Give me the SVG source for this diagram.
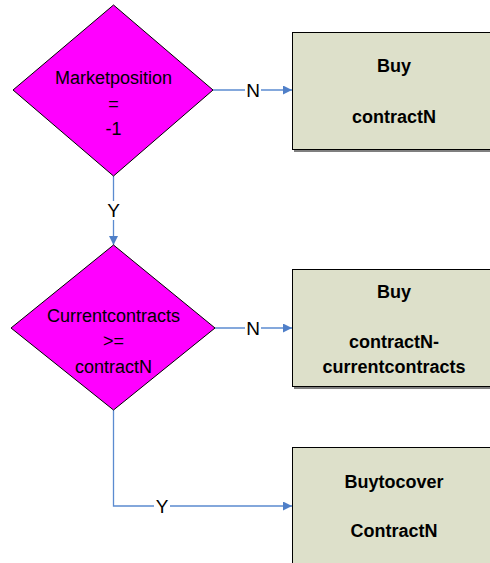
<svg xmlns="http://www.w3.org/2000/svg" width="490" height="563" viewBox="0 0 490 563">
<defs>
<style>
.dia{fill:#ff00ff;stroke:#000;stroke-width:1}
.box{fill:#dde0ca;stroke:#000;stroke-width:1}
.shadow{fill:#7f7f7f}
.t{font-family:"Liberation Sans",Arial,sans-serif;font-size:18px;text-anchor:middle;fill:#000}
.b{font-weight:bold}
.conn{fill:none;stroke:#5b8bd0;stroke-width:1.3}
.lbl{font-family:"Liberation Sans",Arial,sans-serif;font-size:19px;text-anchor:middle;fill:#000}
</style>
<marker id="arr" viewBox="0 0 10 10" refX="10" refY="5" markerWidth="10" markerHeight="9" markerUnits="userSpaceOnUse" orient="auto">
<path d="M0,0 L10,5 L0,10 z" fill="#4f7fc8"/>
</marker>
</defs>
<rect width="490" height="563" fill="#fff"/>
<g id="connectors">
<path class="conn" d="M213,90 H292" marker-end="url(#arr)"/>
<path class="conn" d="M113.5,176 V245" marker-end="url(#arr)"/>
<path class="conn" d="M215,328 H292" marker-end="url(#arr)"/>
<path class="conn" d="M113.5,410 V506 H292" marker-end="url(#arr)"/>
<rect x="245" y="80" width="16" height="20" fill="#fff"/>
<text class="lbl" x="253" y="97">N</text>
<rect x="106" y="201" width="15" height="19" fill="#fff"/>
<text class="lbl" x="113.5" y="217">Y</text>
<rect x="245" y="318" width="16" height="20" fill="#fff"/>
<text class="lbl" x="253" y="335">N</text>
<rect x="154" y="496" width="16" height="20" fill="#fff"/>
<text class="lbl" x="162" y="513">Y</text>
</g>
<g id="d1">
<polygon class="dia" points="113.5,5 213,90 113.5,176 13,90"/>
<text class="t" x="113.5" y="84">Marketposition</text>
<text class="t" x="113.5" y="109.5">=</text>
<text class="t" x="113.5" y="135">-1</text>
</g>
<g id="d2">
<polygon class="dia" points="113.5,245 215,328 113.5,410 11,328"/>
<text class="t" x="113.5" y="321.5">Currentcontracts</text>
<text class="t" x="113.5" y="347">&gt;=</text>
<text class="t" x="113.5" y="372.5">contractN</text>
</g>
<g id="b1">
<rect class="shadow" x="294" y="150" width="200" height="2"/>
<rect class="box" x="292.5" y="32.5" width="204" height="117"/>
<text class="t b" x="394" y="72">Buy</text>
<text class="t b" x="394" y="122.5">contractN</text>
</g>
<g id="b2">
<rect class="shadow" x="294" y="387" width="200" height="2"/>
<rect class="box" x="292.5" y="269.5" width="204" height="117"/>
<text class="t b" x="394" y="297.5">Buy</text>
<text class="t b" x="394" y="347.5">contractN-</text>
<text class="t b" x="394" y="372.5">currentcontracts</text>
</g>
<g id="b3">
<rect class="box" x="292.5" y="447.5" width="204" height="130"/>
<text class="t b" x="394" y="487.5">Buytocover</text>
<text class="t b" x="394" y="537">ContractN</text>
</g>
</svg>
